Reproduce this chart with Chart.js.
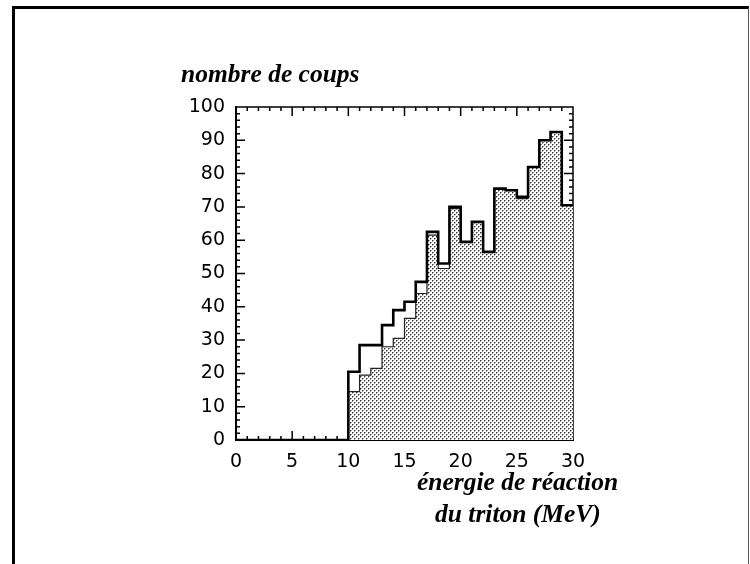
<!DOCTYPE html>
<html>
<head>
<meta charset="utf-8">
<script src="https://cdn.jsdelivr.net/npm/chart.js@4.4.0/dist/chart.umd.min.js"></script>
<style>
  body { margin: 0; background: #fff; }
  #wrap { position: relative; width: 750px; height: 564px; overflow: hidden; }
  #frame {
    position: absolute; left: 12px; top: 6px; width: 733px; height: 600px;
    border-top: 3px solid #000; border-left: 3px solid #000; border-right: 1px solid #555;
  }
  #eChart { position: absolute; left: 0; top: 0; }
</style>
</head>
<body>
<div id="wrap">
  <div id="frame"></div>
  <canvas id="eChart" width="750" height="564"></canvas>
</div>
<script>
// bin low edges in MeV (1 MeV bins)
var binLow = [0, 1, 2, 3, 4, 5, 6, 7, 8, 9, 10, 11, 12, 13, 14, 15, 16, 17, 18, 19,
              20, 21, 22, 23, 24, 25, 26, 27, 28, 29];
// open histogram (outline)
var countsAll = [0, 0, 0, 0, 0, 0, 0, 0, 0, 0,
                 20.5, 28.5, 28.5, 34.5, 39, 41.5, 47.5, 62.5, 53, 70,
                 59.5, 65.5, 56.5, 75.5, 75, 73, 82, 90, 92.5, 70.5];
// shaded histogram
var countsSel = [null, null, null, null, null, null, null, null, null, null,
                 14.5, 19.5, 21.5, 28, 30.5, 36.5, 44, 61.5, 51.5, 69.5,
                 59.5, 65.5, 56.5, 75.5, 75, 72.5, 82, 90, 92.5, 70.5];
var xTicks = [0, 5, 10, 15, 20, 25, 30];
var yTicks = [0, 10, 20, 30, 40, 50, 60, 70, 80, 90, 100];

function stepPoints(vals) {
  var pts = [];
  for (var i = 0; i < binLow.length; i++) {
    if (vals[i] === null) continue;
    pts.push({x: binLow[i], y: vals[i]});
  }
  // close last bin at its upper edge
  pts.push({x: binLow[binLow.length - 1] + 1, y: vals[vals.length - 1]});
  return pts;
}

// stipple fill
var tile = document.createElement('canvas');
tile.width = 4; tile.height = 4;
var tctx = tile.getContext('2d');
tctx.fillStyle = '#fff';
tctx.fillRect(0, 0, 4, 4);
tctx.fillStyle = '#999';
tctx.fillRect(1, 0, 1, 1); tctx.fillRect(0, 1, 1, 1);
tctx.fillRect(3, 2, 1, 1); tctx.fillRect(2, 3, 1, 1);
tctx.fillStyle = '#333';
tctx.fillRect(0, 0, 1, 1); tctx.fillRect(2, 2, 1, 1);
var ctx = document.getElementById('eChart').getContext('2d');
var stipple = ctx.createPattern(tile, 'repeat');

// inward tick marks on all four sides + top/right border
var frameTicks = {
  id: 'frameTicks',
  beforeDatasetsDraw: function(chart) {
    var c = chart.ctx, a = chart.chartArea;
    var xs = chart.scales.x, ys = chart.scales.y;
    c.save();
    c.strokeStyle = '#000';
    c.lineWidth = 1.5;
    c.beginPath();
    c.moveTo(a.left, a.top); c.lineTo(a.right, a.top); c.lineTo(a.right, a.bottom);
    for (var v = 0; v <= 30; v++) {
      var px = xs.getPixelForValue(v);
      var len = (v % 5 === 0) ? 9 : 4;
      c.moveTo(px, a.bottom); c.lineTo(px, a.bottom - len);
      c.moveTo(px, a.top); c.lineTo(px, a.top + len);
    }
    for (var w = 0; w <= 100; w += 2) {
      var py = ys.getPixelForValue(w);
      var l2 = (w % 10 === 0) ? 9 : 4;
      c.moveTo(a.left, py); c.lineTo(a.left + l2, py);
      c.moveTo(a.right, py); c.lineTo(a.right - l2, py);
    }
    c.stroke();
    c.restore();
  }
};

// axis captions
var captions = {
  id: 'captions',
  afterDraw: function(chart) {
    var c = chart.ctx;
    c.save();
    c.fillStyle = '#000';
    c.font = 'italic bold 25.5px "Liberation Serif", "DejaVu Serif", serif';
    c.textBaseline = 'alphabetic';
    c.textAlign = 'left';
    c.fillText('nombre de coups', 181, 82);
    c.fillText('énergie de réaction', 417, 490);
    c.fillText('du triton (MeV)', 435, 522);
    c.restore();
  }
};

var myChart = new Chart(ctx, {
  type: 'line',
  data: {
    datasets: [{
      label: 'tous',
      data: stepPoints(countsAll),
      stepped: true,
      borderColor: '#000',
      borderWidth: 2.6,
      pointRadius: 0,
      fill: false
    }, {
      label: 'sélection',
      data: stepPoints(countsSel),
      stepped: true,
      borderColor: '#222',
      borderWidth: 1.2,
      pointRadius: 0,
      backgroundColor: stipple,
      fill: 'origin'
    }]
  },
  options: {
    responsive: false,
    animation: false,
    events: [],
    layout: {
      padding: { left: 171, right: 177, top: 107, bottom: 74 }
    },
    plugins: {
      legend: { display: false },
      tooltip: { enabled: false },
      title: { display: false }
    },
    scales: {
      x: {
        type: 'linear',
        min: 0,
        max: 30,
        afterFit: function(s) { s.height = 50; },
        afterBuildTicks: function(s) { s.ticks = xTicks.map(function(v) { return {value: v}; }); },
        grid: { display: false },
        border: { display: true, color: '#000', width: 2 },
        ticks: {
          color: '#000',
          padding: 3,
          maxRotation: 0,
          font: { family: '"DejaVu Sans", sans-serif', size: 19 }
        }
      },
      y: {
        min: 0,
        max: 100,
        afterFit: function(s) { s.width = 65; },
        afterBuildTicks: function(s) { s.ticks = yTicks.map(function(v) { return {value: v}; }); },
        grid: { display: false },
        border: { display: true, color: '#000', width: 2 },
        ticks: {
          color: '#000',
          padding: 3,
          font: { family: '"DejaVu Sans", sans-serif', size: 19 }
        }
      }
    }
  },
  plugins: [frameTicks, captions]
});
</script>
</body>
</html>
